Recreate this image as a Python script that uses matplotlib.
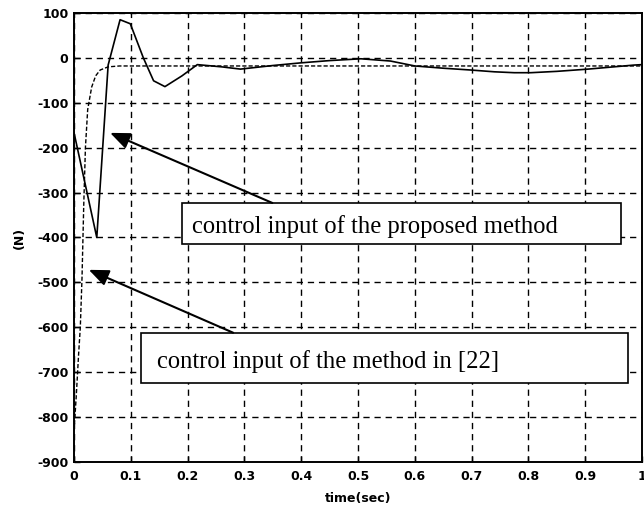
import matplotlib
matplotlib.use("Agg")
import matplotlib.pyplot as plt
from matplotlib.patches import Rectangle

plt.rcParams["axes.unicode_minus"] = False

# proposed method control input (solid)
t_prop = [0.0, 0.04, 0.06, 0.081, 0.099, 0.122, 0.14, 0.16, 0.19, 0.217, 0.26, 0.293,
          0.35, 0.40, 0.45, 0.505, 0.557, 0.60, 0.65, 0.698, 0.74, 0.775, 0.804, 0.85, 0.905, 0.95, 0.986, 1.0]
u_prop = [-167, -400, -16, 85, 76, 0, -51, -64, -40, -15, -20, -25,
          -17, -11, -6, -2, -7, -18, -23, -27, -31, -33, -33, -30, -25, -20, -16, -15]

# method in [22] control input (dashed)
t_ref = [0.0, 0.004, 0.008, 0.011, 0.014, 0.017, 0.020, 0.024, 0.031, 0.038, 0.046, 0.06, 0.08, 0.2, 0.5, 1.0]
u_ref = [-830, -750, -660, -600, -490, -330, -200, -115, -65, -40, -27, -20, -18, -18, -18, -18]

x_ticks = [0, 0.1, 0.2, 0.3, 0.4, 0.5, 0.6, 0.7, 0.8, 0.9, 1.0]
x_labels = ["0", "0.1", "0.2", "0.3", "0.4", "0.5", "0.6", "0.7", "0.8", "0.9", "1"]
y_ticks = list(range(-900, 101, 100))

label_prop = "control input of the proposed method"
label_ref = "control input of the method in [22]"

fig = plt.figure(figsize=(6.44, 5.09), dpi=100)
ax = fig.add_axes([0.115, 0.0923, 0.882, 0.8822])

ax.plot(t_ref, u_ref, color="black", lw=1.0, linestyle=(0, (3, 1.5)))
ax.plot(t_prop, u_prop, color="black", lw=1.2)

ax.set_xlim(0, 1)
ax.set_ylim(-900, 100)
ax.set_xticks(x_ticks)
ax.set_xticklabels(x_labels)
ax.set_yticks(y_ticks)
ax.grid(True, color="black", linestyle=(0, (4.5, 3.5)), linewidth=1.0)
ax.tick_params(direction="in", length=4, width=1, labelsize=9, pad=4)
ax.tick_params(axis="x", pad=6)
for lab in ax.get_xticklabels() + ax.get_yticklabels():
    lab.set_fontweight("bold")
    lab.set_family("DejaVu Sans")
for s in ax.spines.values():
    s.set_linewidth(1.4)

ax.set_xlabel("time(sec)", fontsize=9, fontweight="bold", family="DejaVu Sans", labelpad=6)
ax.set_ylabel("(N)", fontsize=9, fontweight="bold", family="DejaVu Sans", labelpad=8)

serif = "Liberation Serif"
# box 1
ax.add_patch(Rectangle((0.19, -414), 0.773, 91, facecolor="white", edgecolor="black", lw=1.2, zorder=5))
ax.text(0.208, -390, label_prop, family=serif, fontsize=17.7, va="baseline", ha="left", zorder=6)
# box 2
ax.add_patch(Rectangle((0.118, -724), 0.857, 112, facecolor="white", edgecolor="black", lw=1.2, zorder=5))
ax.text(0.146, -690, label_ref, family=serif, fontsize=17.7, va="baseline", ha="left", zorder=6)

arrow = dict(arrowstyle="-|>,head_length=1.2,head_width=0.5", color="black", lw=1.5, shrinkA=0, shrinkB=0)
ax.annotate("", xy=(0.0635, -167), xytext=(0.349, -323), arrowprops=arrow, zorder=7)
ax.annotate("", xy=(0.026, -472), xytext=(0.280, -612), arrowprops=arrow, zorder=7)

fig.savefig("out.png", dpi=100)
